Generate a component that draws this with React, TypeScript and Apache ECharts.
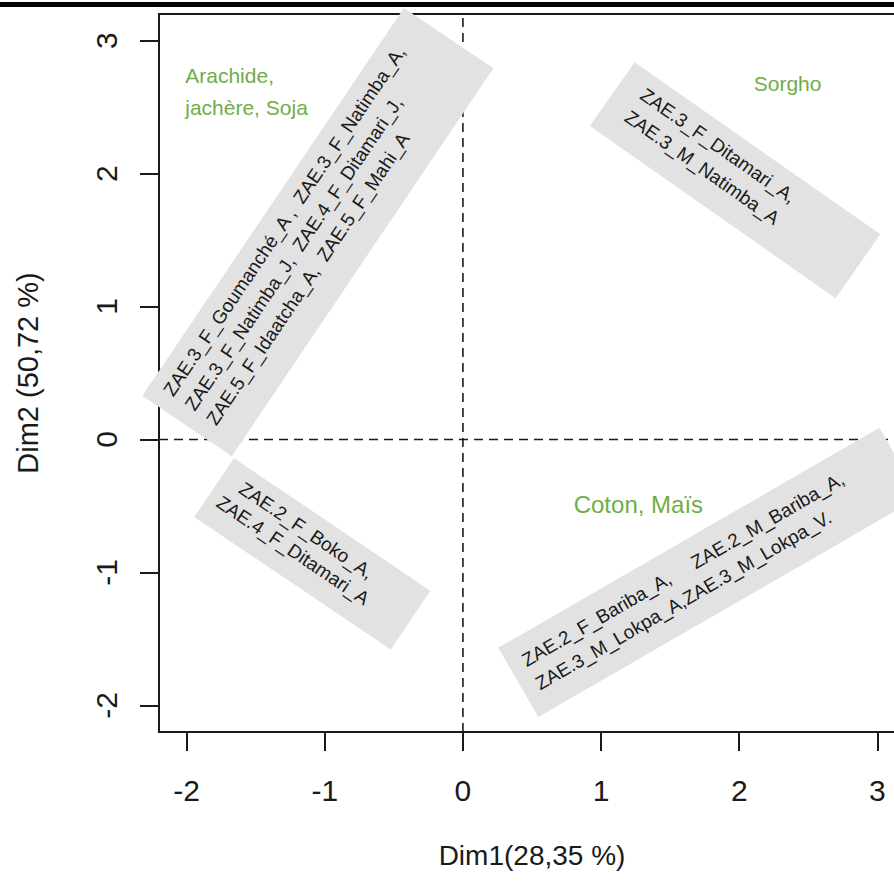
import React, { useEffect, useRef } from 'react';
import * as echarts from 'echarts';

// ---- axes ----
const xTicks = [-2, -1, 0, 1, 2, 3];
const yTicks = [-2, -1, 0, 1, 2, 3];
const xRange = [-2.2, 3.2];
const yRange = [-2.2, 3.2];
const xTitle = 'Dim1(28,35 %)';
const yTitle = 'Dim2 (50,72 %)';

// ---- groups of individuals (grey boxes), centre in the factorial plane ----
const groupX = [-1.05, 1.97, -1.09, 1.78];
const groupY = [1.56, 1.95, -0.86, -1.0];
const groupLines = [
  ['ZAE.3_F_Goumanché_A ,  ZAE.3_F_Natimba_A,', 'ZAE.3_F_Natimba_J,  ZAE.4_F_Ditamari_J,', 'ZAE.5_F_Idaatcha_A,  ZAE.5_F_Mahi_A'],
  ['ZAE.3_F_Ditamari_A,', 'ZAE.3_M_Natimba_A'],
  ['ZAE.2_F_Boko_A,', 'ZAE.4_F_Ditamari_A'],
  ['ZAE.2_F_Bariba_A,     ZAE.2_M_Bariba_A,', 'ZAE.3_M_Lokpa_A,ZAE.3_M_Lokpa_V.'],
];

// ---- crops associated with each quadrant ----
const cropNames = ['Arachide,\njachère, Soja', 'Sorgho', 'Coton, Maïs'];
const cropX = [-2.01, 2.35, 1.27];
const cropY = [2.62, 2.68, -0.49];

// ---- styles (not data) ----
const FONT = 'Liberation Sans, Arial, sans-serif';
const INK = '#1a1a1a';
const BOX_FILL = '#e2e2e2';
const GREEN = '#70ad47';
const boxStyles = [
  { angle: 56, w: 468, h: 108, align: 'left', padX: 16, offY: -8, lh: 26 },
  { angle: -35, w: 300, h: 78, align: 'left', padX: 24, offY: -5, lh: 27 },
  { angle: -34, w: 237, h: 71, align: 'center', padX: -18, offY: -4, lh: 24 },
  { angle: 30, w: 440, h: 80, align: 'left', padX: 15, offY: -2, lh: 27 },
];
const cropStyles = [
  { size: 21, align: 'left', lh: 32 },
  { size: 21, align: 'center', lh: 24 },
  { size: 24, align: 'center', lh: 28 },
];

export default function App() {
  const ref = useRef<HTMLDivElement>(null);
  useEffect(() => {
    if (!ref.current) return;
    const chart = echarts.init(ref.current, undefined, { renderer: 'svg' });
    const axisCommon = {
      type: 'value',
      splitLine: { show: false },
      axisLine: { show: true, onZero: false, lineStyle: { color: INK, width: 2 } },
    };
    const option: any = {
      animation: false,
      backgroundColor: '#ffffff',
      grid: {
        left: 159, top: 14, width: 746, height: 718,
        show: true, borderColor: INK, borderWidth: 2,
        containLabel: false, outerBoundsMode: 'none',
      },
      xAxis: {
        ...axisCommon,
        min: xRange[0], max: xRange[1], position: 'bottom',
        axisTick: { show: true, length: 19, lineStyle: { color: INK, width: 2 }, customValues: xTicks },
        axisLabel: { customValues: xTicks, fontSize: 30, color: INK, margin: 43, fontFamily: FONT },
      },
      yAxis: {
        ...axisCommon,
        min: yRange[0], max: yRange[1], position: 'left',
        axisTick: { show: true, length: 19, lineStyle: { color: INK, width: 2 }, customValues: yTicks },
        axisLabel: { customValues: yTicks, fontSize: 30, color: INK, margin: 38, rotate: 90, fontFamily: FONT },
      },
      graphic: [
        { type: 'rect', left: 0, top: 2, shape: { width: 894, height: 5 }, style: { fill: '#000' }, z: 100 },
        { type: 'text', x: 532, y: 855, style: { text: xTitle, fontSize: 28, fill: INK, fontFamily: FONT, align: 'center', verticalAlign: 'middle' } },
        { type: 'text', x: 28, y: 373, rotation: Math.PI / 2, style: { text: yTitle, fontSize: 29, fill: INK, fontFamily: FONT, align: 'center', verticalAlign: 'middle' } },
      ],
      series: [
        {
          type: 'line', silent: true, symbol: 'none', z: 2,
          data: [[0, yRange[0]], [0, yRange[1]]],
          lineStyle: { color: INK, width: 1.6, type: [9, 6] },
        },
        {
          type: 'line', silent: true, symbol: 'none', z: 2,
          data: [[xRange[0], 0], [xRange[1], 0]],
          lineStyle: { color: INK, width: 1.6, type: [9, 6] },
        },
        {
          type: 'custom', z: 5, clip: false, silent: true,
          data: groupX.map((x, i) => [x, groupY[i]]),
          renderItem: (params: any, api: any) => {
            const i = params.dataIndex;
            const s = boxStyles[i];
            const p = api.coord([api.value(0), api.value(1)]);
            const tx = s.align === 'left' ? -s.w / 2 + s.padX : s.padX;
            return {
              type: 'group', x: p[0], y: p[1], rotation: (s.angle * Math.PI) / 180,
              children: [
                { type: 'rect', shape: { x: -s.w / 2, y: -s.h / 2, width: s.w, height: s.h }, style: { fill: BOX_FILL } },
                {
                  type: 'text',
                  style: {
                    text: groupLines[i].join('\n'), x: tx, y: s.offY,
                    fill: INK, fontSize: 19, fontFamily: FONT, lineHeight: s.lh,
                    align: s.align, verticalAlign: 'middle',
                  },
                },
              ],
            };
          },
        },
        {
          type: 'custom', z: 6, clip: false, silent: true,
          data: cropX.map((x, i) => [x, cropY[i]]),
          renderItem: (params: any, api: any) => {
            const i = params.dataIndex;
            const s = cropStyles[i];
            const p = api.coord([api.value(0), api.value(1)]);
            return {
              type: 'text', x: p[0], y: p[1],
              style: {
                text: cropNames[i], fill: GREEN, fontSize: s.size, fontFamily: FONT,
                lineHeight: s.lh, align: s.align, verticalAlign: 'middle',
              },
            };
          },
        },
      ],
    };
    chart.setOption(option);
    return () => chart.dispose();
  }, []);
  return <div ref={ref} style={{ position: 'fixed', left: 0, top: 0, width: 894, height: 883, background: '#fff' }} />;
}
